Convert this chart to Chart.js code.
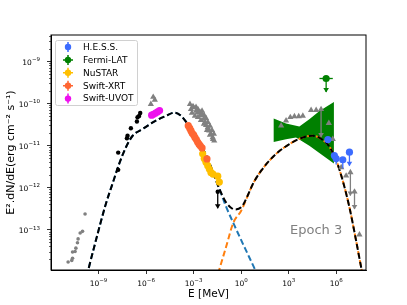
<!DOCTYPE html>
<html>
<head>
<meta charset="utf-8">
<script src="https://cdn.jsdelivr.net/npm/chart.js@4.4.1/dist/chart.umd.min.js"></script>
<style>
  html, body { margin: 0; padding: 0; background: #fff; }
</style>
</head>
<body>
<canvas id="sed" width="407" height="305"></canvas>
<script>
// all values are log10: E in MeV, E^2 dN/dE in erg cm^-2 s^-1
const xTickExp = [-9, -6, -3, 0, 3, 6];
const yTickExp = [-13, -12, -11, -10, -9];

const greyDotE = [-10.92, -10.69, -10.64, -10.64, -10.48, -10.43, -10.33, -10.29, -10.16, -10.01, -9.85];
const greyDotF = [-13.77, -13.73, -13.68, -13.53, -13.52, -13.44, -13.31, -13.22, -13.08, -13.04, -12.63];

const blackE = [-7.76, -7.76, -7.21, -7.17, -6.96, -6.58, -6.54, -6.44, -6.37, -1.48];
const blackF = [-11.17, -11.58, -10.83, -10.77, -10.59, -10.43, -10.33, -10.30, -10.23, -12.10];

const uvotE = [-5.65, -5.53, -5.40, -5.27, -5.15];
const uvotF = [-10.28, -10.26, -10.23, -10.20, -10.17];

const xrtE = [-3.34, -3.25, -3.17, -3.09, -3.00, -2.92, -2.83, -2.75, -2.66, -2.58, -2.47, -2.16];
const xrtF = [-10.53, -10.59, -10.65, -10.71, -10.75, -10.81, -10.86, -10.92, -10.97, -11.01, -11.06, -11.32];

const nustarE = [-2.43, -2.33, -2.22, -2.11, -2.01, -1.91, -1.78, -1.48, -1.38];
const nustarF = [-11.20, -11.31, -11.40, -11.48, -11.56, -11.64, -11.68, -11.73, -11.87];

const hessE = [5.47, 5.88, 5.99, 6.41, 6.83];
const hessF = [-10.86, -11.24, -11.31, -11.34, -11.16];
const hessErrLo = [-10.92, -11.35, -11.45, -11.55, -11.16];
const hessErrHi = [-10.82, -11.18, -11.25, -11.30, -11.16];

const fermiE = [5.36];
const fermiF = [-9.41];
const fermiELo = [4.94];
const fermiEHi = [5.78];

const greyTriE = [-5.70, -5.55, -5.45,
  -3.23, -3.04, -2.85, -2.73, -2.60, -2.47, -2.34, -2.22, -2.10, -1.97, -1.84, -1.72,
  -3.17, -3.00, -2.85, -2.75, -2.58, -2.47, -2.37, -2.28, -2.22, -2.11, -2.01, -1.91, -1.80, -1.70,
  -3.11, -2.92, -2.73, -2.54, -2.35, -2.16, -1.97, -1.78,
  2.52, 2.83, 3.10, 3.36, 3.63, 3.89, 4.41, 4.73, 5.04, 5.53, 5.78,
  6.31, 6.62, 6.89, 7.15, 7.46];
const greyTriF = [-10.02, -9.85, -9.92,
  -10.02, -10.07, -10.09, -10.14, -10.21, -10.18, -10.28, -10.35, -10.45, -10.54, -10.64, -10.73,
  -10.14, -10.10, -10.18, -10.22, -10.28, -10.26, -10.37, -10.45, -10.52, -10.57, -10.65, -10.73, -10.81, -10.89,
  -10.23, -10.30, -10.33, -10.40, -10.49, -10.64, -10.75, -10.85,
  -10.53, -10.41, -10.33, -10.31, -10.31, -10.30, -10.16, -10.16, -10.14, -10.47, -10.85,
  -11.52, -11.72, -11.64, -12.10, -13.12];

// upper limits: start value and where the arrow ends
const ulE = [-1.48, 5.36, 6.83, 5.04, 6.89, 7.15];
const ulF = [-12.10, -9.41, -11.16, -10.14, -11.64, -12.10];
const ulEnd = [-12.49, -9.73, -11.48, -10.80, -12.19, -12.51];
const ulKind = ['black', 'fermi', 'hess', 'grey', 'grey', 'grey'];

// Fermi-LAT butterfly, upper edge then lower edge back
const bandE = [2.05, 2.83, 3.67, 4.30, 4.94, 5.85, 5.85, 5.15, 4.30, 3.46, 2.83, 2.05];
const bandF = [-10.36, -10.48, -10.55, -10.38, -10.18, -9.97, -11.43, -11.24, -11.01, -10.81, -10.85, -10.92];

// model curves
const syncE = [-9.75, -9.63, -9.17, -8.54, -8.12, -7.70, -7.28, -6.85, -6.22, -5.38, -4.75, -4.20, -3.79, -3.38, -2.75, -2.11, -1.70, -1.38, -0.96, -0.50, 0.00, 0.50, 0.87, 0.97];
const syncF = [-14.12, -13.93, -13.26, -12.39, -11.91, -11.44, -11.05, -10.77, -10.61, -10.41, -10.30, -10.22, -10.30, -10.49, -10.85, -11.32, -11.72, -12.03, -12.45, -12.84, -13.25, -13.65, -13.95, -14.05];

const icE = [-1.45, -1.38, -0.96, -0.50, 0.00, 0.41, 0.73, 1.30, 2.20, 3.04, 3.89, 4.52, 5.15, 5.57, 5.99, 6.41, 6.83, 7.25, 7.60, 7.66];
const icF = [-14.05, -13.95, -13.42, -12.84, -12.55, -12.20, -11.92, -11.58, -11.20, -10.97, -10.81, -10.77, -10.87, -11.03, -11.35, -11.84, -12.47, -13.26, -13.95, -14.05];

const totalE = [-9.75, -9.63, -9.17, -8.54, -8.12, -7.70, -7.28, -6.85, -6.22, -5.38, -4.75, -4.20, -3.79, -3.38, -2.75, -2.11, -1.70, -1.38, -0.96, -0.53, -0.43, 0.00, 0.41, 0.73, 1.30, 2.20, 3.04, 3.89, 4.52, 5.15, 5.57, 5.99, 6.41, 6.83, 7.25, 7.60, 7.66];
const totalF = [-14.12, -13.93, -13.26, -12.39, -11.91, -11.44, -11.05, -10.77, -10.61, -10.41, -10.30, -10.22, -10.30, -10.49, -10.85, -11.32, -11.72, -12.03, -12.35, -12.51, -12.52, -12.47, -12.19, -11.92, -11.58, -11.20, -10.97, -10.81, -10.77, -10.87, -11.03, -11.35, -11.84, -12.47, -13.26, -13.95, -14.05];

const legendLabels = ['H.E.S.S.', 'Fermi-LAT', 'NuSTAR', 'Swift-XRT', 'Swift-UVOT'];

const C = {
  hess: '#3c6cff', fermi: '#008000', nustar: '#ffbf00', xrt: '#ff6633', uvot: '#ee10ee',
  grey: '#808080', black: '#000000', sync: '#1f77b4', ic: '#ff7f0e'
};
const legendColors = [C.hess, C.fermi, C.nustar, C.xrt, C.uvot];
const legendCross = [false, true, true, true, false];

const pts = (xs, ys) => xs.map((x, i) => ({ x: 10 ** x, y: 10 ** ys[i] }));

function markers(xs, ys, color, style, r) {
  return {
    data: pts(xs, ys), showLine: false, pointStyle: style, pointRadius: r,
    backgroundColor: color, borderColor: color, pointBorderWidth: 0
  };
}
function curve(xs, ys, color) {
  return {
    data: pts(xs, ys), showLine: true, pointRadius: 0, borderColor: color,
    borderWidth: 2, borderDash: [6, 3], fill: false, cubicInterpolationMode: 'monotone'
  };
}

// "10" with a raised exponent, like matplotlib's mathtext labels
function powLabel(ctx, e, x, y, align) {
  const exp = String(e).replace('-', '\u2212');
  ctx.font = '7.5px "DejaVu Sans"';
  const w1 = ctx.measureText('10').width;
  ctx.font = '5.5px "DejaVu Sans"';
  const w2 = ctx.measureText(exp).width;
  const x0 = align === 'center' ? x - (w1 + w2) / 2 : x - (w1 + w2);
  ctx.font = '7.5px "DejaVu Sans"';
  ctx.fillText('10', x0, y);
  ctx.font = '5.5px "DejaVu Sans"';
  ctx.fillText(exp, x0 + w1, y - 3.6);
}

// error bars, upper limits, frame, tick labels, legend, label
const extras = {
  id: 'extras',
  afterDatasetsDraw(chart) {
    const { ctx, scales: { x, y } } = chart;
    const X = v => x.getPixelForValue(10 ** v);
    const Y = v => y.getPixelForValue(10 ** v);
    ctx.save();
    ctx.lineWidth = 1.3;
    ctx.strokeStyle = C.hess;
    hessE.forEach((e, i) => {
      ctx.beginPath();
      ctx.moveTo(X(e), Y(hessErrLo[i]));
      ctx.lineTo(X(e), Y(hessErrHi[i]));
      ctx.stroke();
    });
    ctx.strokeStyle = C.fermi;
    fermiE.forEach((e, i) => {
      ctx.beginPath();
      ctx.moveTo(X(fermiELo[i]), Y(fermiF[i]));
      ctx.lineTo(X(fermiEHi[i]), Y(fermiF[i]));
      ctx.stroke();
    });
    ulE.forEach((e, i) => {
      const col = C[ulKind[i]];
      const px = X(e), y0 = Y(ulF[i]), y1 = Y(ulEnd[i]);
      ctx.strokeStyle = col;
      ctx.fillStyle = col;
      ctx.beginPath();
      ctx.moveTo(px, y0);
      ctx.lineTo(px, y1);
      ctx.stroke();
      ctx.beginPath();
      ctx.moveTo(px - 2.8, y1 - 4);
      ctx.lineTo(px + 2.8, y1 - 4);
      ctx.lineTo(px, y1 + 0.5);
      ctx.closePath();
      ctx.fill();
    });
    ctx.restore();
  },
  afterDraw(chart) {
    const { ctx, chartArea: a, scales: { x, y } } = chart;
    ctx.save();
    ctx.strokeStyle = '#000';
    ctx.lineWidth = 1;
    ctx.strokeRect(a.left, a.top, a.right - a.left, a.bottom - a.top);
    // minor ticks on y
    ctx.lineWidth = 0.6;
    for (let d = -14; d <= -9; d++) {
      for (let m = 2; m <= 9; m++) {
        const v = m * 10 ** d;
        if (v < y.min || v > y.max) continue;
        const py = Math.round(y.getPixelForValue(v)) + 0.5;
        ctx.beginPath();
        ctx.moveTo(a.left, py);
        ctx.lineTo(a.left - 2, py);
        ctx.stroke();
      }
    }
    // tick labels
    ctx.fillStyle = '#000';
    ctx.textBaseline = 'alphabetic';
    ctx.textAlign = 'left';
    xTickExp.forEach(e => powLabel(ctx, e, x.getPixelForValue(10 ** e), 285.5, 'center'));
    yTickExp.forEach(e => powLabel(ctx, e, 40, y.getPixelForValue(10 ** e) + 3.5, 'right'));
    // Epoch label
    ctx.fillStyle = '#808080';
    ctx.font = '13px "DejaVu Sans"';
    ctx.fillText('Epoch 3', 290, 234);
    // legend
    const lx = 55, ly = 40, lw = 82, lh = 65;
    ctx.fillStyle = 'rgba(255,255,255,0.85)';
    ctx.strokeStyle = '#d0d0d0';
    ctx.lineWidth = 1;
    ctx.beginPath();
    ctx.roundRect(lx + 0.5, ly + 0.5, lw, lh, 2);
    ctx.fill();
    ctx.stroke();
    ctx.font = '9px "DejaVu Sans"';
    ctx.textBaseline = 'middle';
    legendLabels.forEach((lab, i) => {
      const cy = 47 + i * 12.9, cx = 68;
      ctx.strokeStyle = legendColors[i];
      ctx.fillStyle = legendColors[i];
      ctx.lineWidth = 1.5;
      ctx.beginPath();
      ctx.moveTo(cx, cy - 5);
      ctx.lineTo(cx, cy + 5);
      if (legendCross[i]) {
        ctx.moveTo(cx - 5, cy);
        ctx.lineTo(cx + 5, cy);
      }
      ctx.stroke();
      ctx.beginPath();
      ctx.arc(cx, cy, 3.2, 0, Math.PI * 2);
      ctx.fill();
      ctx.fillStyle = '#000';
      ctx.fillText(lab, 83, cy + 0.5);
    });
    ctx.restore();
  }
};

Chart.defaults.font.family = '"DejaVu Sans"';
Chart.defaults.color = '#000';

new Chart(document.getElementById('sed'), {
  type: 'scatter',
  data: {
    datasets: [
      markers(hessE, hessF, C.hess, 'circle', 3.6),
      markers(fermiE, fermiF, C.fermi, 'circle', 3.6),
      markers(xrtE, xrtF, C.xrt, 'circle', 3.6),
      markers(nustarE, nustarF, C.nustar, 'circle', 3.6),
      markers(uvotE, uvotF, C.uvot, 'circle', 3.6),
      markers(blackE, blackF, C.black, 'circle', 2.2),
      markers(greyTriE, greyTriF, C.grey, 'triangle', 3.6),
      markers(greyDotE, greyDotF, C.grey, 'circle', 1.8),
      curve(totalE, totalF, C.black),
      curve(icE, icF, C.ic),
      curve(syncE, syncF, C.sync),
      {
        data: pts(bandE, bandF), showLine: true, pointRadius: 0, borderWidth: 0,
        borderColor: C.fermi, backgroundColor: C.fermi, fill: 'shape'
      }
    ]
  },
  options: {
    responsive: false,
    animation: false,
    events: [],
    layout: { padding: { left: 0, right: 41, top: 35, bottom: 0 } },
    plugins: { legend: { display: false }, tooltip: { enabled: false } },
    scales: {
      x: {
        type: 'logarithmic',
        min: 1e-12,
        max: 7.5e7,
        afterBuildTicks: s => { s.ticks = xTickExp.map(e => ({ value: 10 ** e })); },
        afterFit: s => { s.height = 35; },
        ticks: { display: false },
        grid: { drawOnChartArea: false, drawTicks: true, tickLength: 4, color: '#000', lineWidth: 0.8 },
        border: { display: true, color: '#000', width: 1 },
        title: { display: true, text: 'E [MeV]', font: { size: 10.5 }, padding: { top: 0, bottom: 4 } }
      },
      y: {
        type: 'logarithmic',
        min: 1.1e-14,
        max: 4.2e-9,
        afterBuildTicks: s => { s.ticks = yTickExp.map(e => ({ value: 10 ** e })); },
        afterFit: s => { s.width = 51; },
        ticks: { display: false },
        grid: { drawOnChartArea: false, drawTicks: true, tickLength: 4, color: '#000', lineWidth: 0.8 },
        border: { display: true, color: '#000', width: 1 },
        title: { display: true, text: 'E\u00B2.dN/dE(erg cm\u207B\u00B2 s\u207B\u00B9)', font: { size: 11 }, padding: { top: 5, bottom: 0 } }
      }
    }
  },
  plugins: [extras]
});
</script>
</body>
</html>
